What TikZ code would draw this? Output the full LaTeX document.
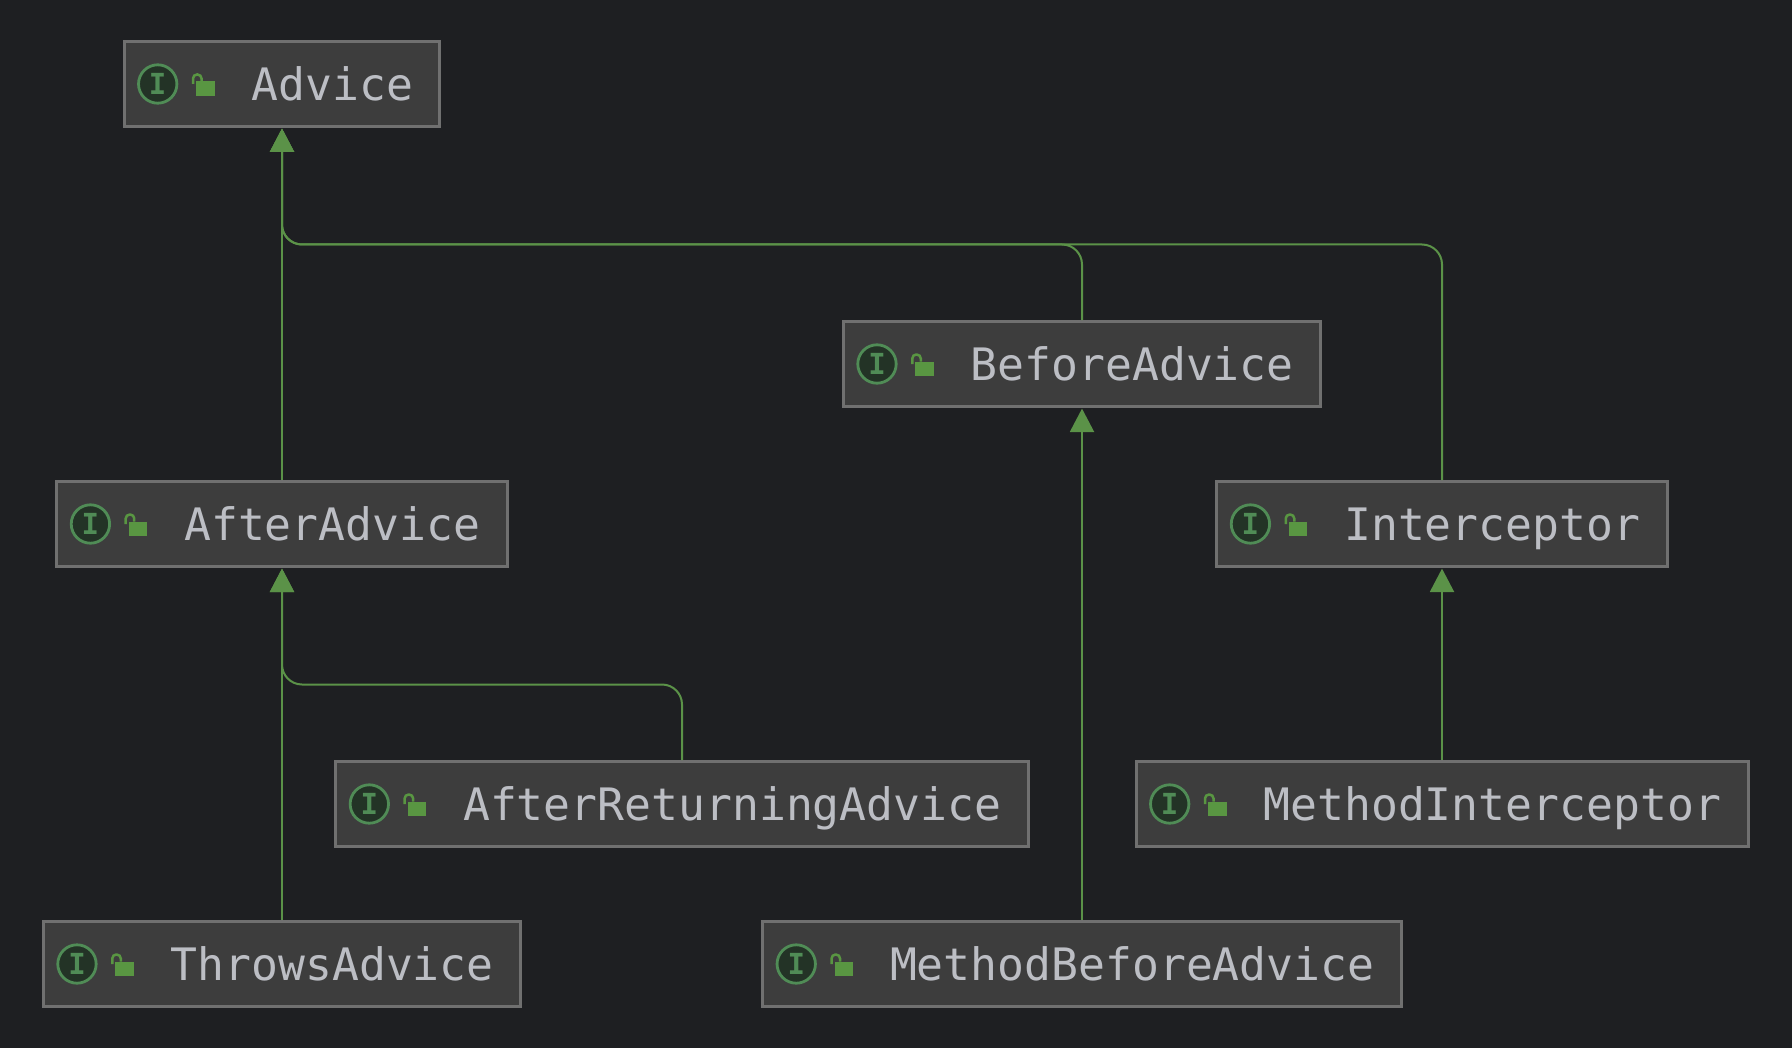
\documentclass[tikz,border=0pt]{standalone}
\usepackage{fontspec}
\setmonofont{DejaVu Sans Mono}
\usetikzlibrary{arrows.meta}
\definecolor{bgcolor}{RGB}{30,31,34}
\definecolor{boxcolor}{RGB}{61,61,61}
\definecolor{bordercolor}{RGB}{112,112,112}
\definecolor{textcolor}{RGB}{188,190,196}
\definecolor{implcolor}{RGB}{91,146,72}
\definecolor{lockcolor}{RGB}{89,150,66}
\definecolor{iconcolor}{RGB}{80,140,86}
\definecolor{iconfill}{RGB}{35,51,38}
% box with its interface icon and open lock
\newcommand{\ifacenode}[4]{
    \node[ifacebox] (#1) at (#2,#3) {\hspace{50.25pt}#4};
    \node[ifaceicon] (#1icon) at ([xshift=17.6pt]#1.west) {I};
    \begin{scope}[shift={(#1.west)}]
        \fill[lockcolor] (73.5,-2.5) rectangle (92,12);
        \draw[lockcolor, line width=1.25pt, rounded corners=2pt] (70.5,0) |- (79,-9.5) -- (79,-2.5);
    \end{scope}
}

\begin{document}
\begin{tikzpicture}[
        x=0.5pt, y=-0.5pt,
        ifacebox/.style={rectangle, draw=bordercolor, line width=1.5pt, fill=boxcolor, text=textcolor,
            font=\fontsize{22.35}{26}\selectfont\ttfamily, minimum height=42.5pt,
            text height=16.3pt, text depth=0pt, inner xsep=13.5pt, inner ysep=0pt},
        ifaceicon/.style={circle, draw=iconcolor, line width=1.4pt, fill=iconfill, text=iconcolor,
            font=\fontsize{14.5}{15}\selectfont\ttfamily\bfseries, minimum size=19.2pt, inner sep=0pt},
        impl/.style={draw=implcolor, line width=1pt, rounded corners=10pt, shorten >=0.3pt,
            -{Triangle[length=11.7pt,width=12pt,fill=implcolor]}}
    ]
        \fill[bgcolor] (0,0) rectangle (1792,1048);
        \useasboundingbox (0,0) rectangle (1792,1048);

        \ifacenode{advice}{282}{84}{Advice}
        \ifacenode{before}{1082}{364}{BeforeAdvice}
        \ifacenode{after}{282}{524}{AfterAdvice}
        \ifacenode{interceptor}{1442}{524}{Interceptor}
        \ifacenode{returning}{682}{804}{AfterReturningAdvice}
        \ifacenode{methodint}{1442}{804}{MethodInterceptor}
        \ifacenode{throws}{282}{964}{ThrowsAdvice}
        \ifacenode{methodbefore}{1082}{964}{MethodBeforeAdvice}

        \coordinate (advicebus) at (282,244.5);
        \coordinate (afterbus) at (282,684.5);

        \draw[impl] (after.north) -- (advice.south);
        \draw[impl] (before.north) |- (advicebus) -- (advice.south);
        \draw[impl] (interceptor.north) |- (advicebus) -- (advice.south);
        \draw[impl] (throws.north) -- (after.south);
        \draw[impl] (returning.north) |- (afterbus) -- (after.south);
        \draw[impl] (methodbefore.north) -- (before.south);
        \draw[impl] (methodint.north) -- (interceptor.south);
\end{tikzpicture}
\end{document}
